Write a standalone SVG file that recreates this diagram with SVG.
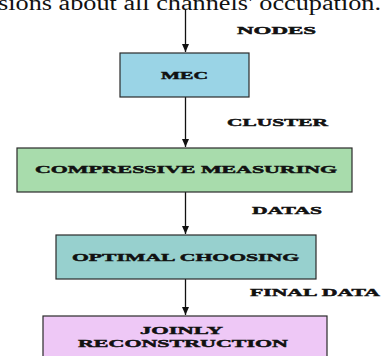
<svg xmlns="http://www.w3.org/2000/svg" width="382" height="356" viewBox="0 0 382 356">
<defs>
<marker id="ah" markerWidth="8" markerHeight="7" refX="8" refY="3.5" orient="auto" markerUnits="userSpaceOnUse">
<path d="M0,0 L8,3.5 L0,7 Z" fill="#111"/>
</marker>
<style>
.box{stroke:#2a2a2a;stroke-width:1.2}
.lbl{font-family:"Liberation Serif",serif;font-weight:bold;font-size:11px;fill:#111;stroke:#111;stroke-width:0.45}
.con{stroke:#111;stroke-width:1.3;fill:none;marker-end:url(#ah)}
</style>
</defs>
<rect width="382" height="356" fill="#fff"/>
<text x="-2" y="10" font-family="Liberation Serif,serif" font-size="20" fill="#111" textLength="383" lengthAdjust="spacingAndGlyphs">sions about all channels' occupation.</text>
<g id="connectors">
<line class="con" x1="185.5" y1="10" x2="185.5" y2="52"/>
<line class="con" x1="185.5" y1="97" x2="185.5" y2="147"/>
<line class="con" x1="185.5" y1="192" x2="185.5" y2="234"/>
<line class="con" x1="185.5" y1="279" x2="185.5" y2="315"/>
</g>
<g id="edge-labels">
<text class="lbl" x="237" y="34" textLength="79" lengthAdjust="spacingAndGlyphs">NODES</text>
<text class="lbl" x="227" y="126" textLength="101" lengthAdjust="spacingAndGlyphs">CLUSTER</text>
<text class="lbl" x="252" y="214" textLength="70" lengthAdjust="spacingAndGlyphs">DATAS</text>
<text class="lbl" x="250" y="296" textLength="130" lengthAdjust="spacingAndGlyphs">FINAL DATA</text>
</g>
<g id="node-mec">
<rect class="box" x="120" y="53" width="129" height="44" fill="#9AD4E6"/>
<text class="lbl" x="161" y="79" textLength="47" lengthAdjust="spacingAndGlyphs">MEC</text>
</g>
<g id="node-compressive">
<rect class="box" x="17" y="148" width="335" height="44" fill="#A8DCAC"/>
<text class="lbl" x="35" y="173" textLength="302" lengthAdjust="spacingAndGlyphs">COMPRESSIVE MEASURING</text>
</g>
<g id="node-optimal">
<rect class="box" x="56" y="235" width="260" height="44" fill="#97D0CE"/>
<text class="lbl" x="72" y="261" textLength="227" lengthAdjust="spacingAndGlyphs">OPTIMAL CHOOSING</text>
</g>
<g id="node-joinly">
<rect class="box" x="43" y="316" width="284" height="50" fill="#EEC8F6"/>
<text class="lbl" x="140" y="334" textLength="83" lengthAdjust="spacingAndGlyphs">JOINLY</text>
<text class="lbl" x="78" y="347" textLength="210" lengthAdjust="spacingAndGlyphs">RECONSTRUCTION</text>
</g>
</svg>
